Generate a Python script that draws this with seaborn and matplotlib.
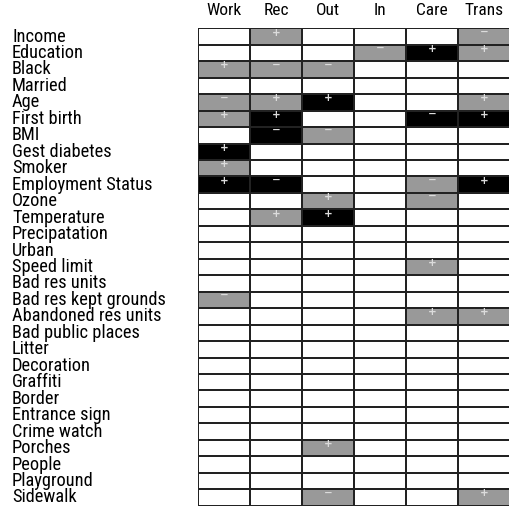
import matplotlib
matplotlib.use("Agg")
import matplotlib.pyplot as plt
from matplotlib.colors import ListedColormap
from matplotlib.patches import Rectangle
import seaborn as sns
import pandas as pd

rows = ["Income", "Education", "Black", "Married", "Age", "First birth", "BMI",
        "Gest diabetes", "Smoker", "Employment Status", "Ozone", "Temperature",
        "Precipatation", "Urban", "Speed limit", "Bad res units",
        "Bad res kept grounds", "Abandoned res units", "Bad public places",
        "Litter", "Decoration", "Graffiti", "Border", "Entrance sign",
        "Crime watch", "Porches", "People", "Playground", "Sidewalk"]
cols = ["Work", "Rec", "Out", "In", "Care", "Trans"]

# G = gray (weaker), B = black (stronger); sign of association
work = {"Black": "G+", "Age": "G-", "First birth": "G+", "Gest diabetes": "B+",
        "Smoker": "G+", "Employment Status": "B+", "Bad res kept grounds": "G-"}
rec = {"Income": "G+", "Black": "G-", "Age": "G+", "First birth": "B+",
       "BMI": "B-", "Employment Status": "B-", "Temperature": "G+"}
out = {"Black": "G-", "Age": "B+", "BMI": "G-", "Ozone": "G+",
       "Temperature": "B+", "Porches": "G+", "Sidewalk": "G-"}
inn = {"Education": "G-"}
care = {"Education": "B+", "First birth": "B-", "Employment Status": "G-",
        "Ozone": "G-", "Speed limit": "G+", "Abandoned res units": "G+"}
trans = {"Income": "G-", "Education": "G+", "Age": "G+", "First birth": "B+",
         "Employment Status": "B+", "Abandoned res units": "G+", "Sidewalk": "G+"}

columns = [work, rec, out, inn, care, trans]
level_of = {"G": 1, "B": 2}

levels = pd.DataFrame(
    {c: [level_of[d[r][0]] if r in d else 0 for r in rows] for c, d in zip(cols, columns)},
    index=rows)
signs = pd.DataFrame(
    {c: [d[r][1] if r in d else "" for r in rows] for c, d in zip(cols, columns)},
    index=rows)

W, H = 509, 508
fig = plt.figure(figsize=(W / 100, H / 100), dpi=100)
left, right, top, bottom = 198.3, 510.3, 28.3, 505.7
ax = fig.add_axes([left / W, 1 - bottom / H, (right - left) / W, (bottom - top) / H])
row_px = (bottom - top) / len(rows)

cmap = ListedColormap(["white", "#999999", "black"])
sns.heatmap(levels, ax=ax, cmap=cmap, vmin=-0.5, vmax=2.5, cbar=False,
            linewidths=1.4, linecolor="#222222", xticklabels=True, yticklabels=True)

label_font = ["Roboto Condensed", "Archivo Narrow", "PT Sans Narrow", "Liberation Sans"]
ax.xaxis.tick_top()
ax.tick_params(axis="both", length=0)
ax.tick_params(axis="x", pad=7.5)
ax.set_xticklabels(cols, rotation=0, fontsize=12.5, family=label_font)
ax.set_yticklabels(rows, rotation=0, fontsize=13.2, family=label_font, ha="left")
ax.tick_params(axis="y", pad=(left - 12) * 72 / 100)
ax.set_xlabel("")
ax.set_ylabel("")

for i, r in enumerate(rows):
    for j, c in enumerate(cols):
        s = signs.loc[r, c]
        if not s:
            continue
        if s == "+":
            base, clip_px, glyph = 7.2, 3.0, "+"
        else:
            base, clip_px, glyph = 6.2, 1.5, "\u2212"
        t = ax.text(j + 0.5, i + base / row_px, glyph, ha="center", va="baseline",
                    fontsize=7.5, color="#dcdcdc", family="DejaVu Sans",
                    fontweight="bold")
        t.set_clip_path(Rectangle((j, i + clip_px / row_px), 1, 1 - clip_px / row_px,
                                  transform=ax.transData))

fig.savefig("out.png", dpi=100)
